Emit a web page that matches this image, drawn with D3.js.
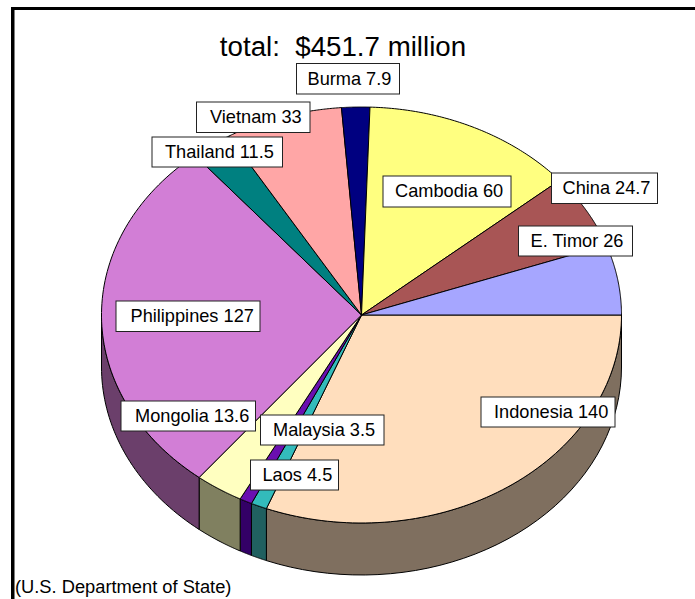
<!DOCTYPE html>
<html>
<head>
<meta charset="utf-8">
<script src="https://cdn.jsdelivr.net/npm/d3@7"></script>
<style>
html, body { margin: 0; padding: 0; background: #fff; }
svg { display: block; }
text { font-family: "Liberation Sans", Arial, sans-serif; fill: #000; }
</style>
</head>
<body>
<div id="chart"></div>
<script>
// clockwise, starting at 3 o'clock
var countries = ["Indonesia", "Laos", "Malaysia", "Mongolia", "Philippines", "Thailand", "Vietnam", "Burma", "Cambodia", "E. Timor", "China"];
// Philippines is printed as 127 but 127.5 is what makes the stated total add up
var amounts = [140, 4.5, 3.5, 13.6, 127.5, 11.5, 33, 7.9, 60, 26, 24.7];
var amountLabels = ["140", "4.5", "3.5", "13.6", "127", "11.5", "33", "7.9", "60", "26", "24.7"];
var titleText = "total:  $451.7 million";
var sourceText = "(U.S. Department of State)";

var topColors = ["#ffdebd", "#33bbbb", "#6a0fb0", "#ffffc0", "#d27ed6", "#008080", "#ffa6a6", "#000080", "#ffff80", "#a85555", "#a6a6ff"];
var sideColors = ["#7f6f5f", "#206060", "#330066", "#808060", "#6b3f6b", "#004040", "#805353", "#000040", "#808040", "#542b2b", "#535380"];

// label boxes: left, top, width, height, text inset
var labelBoxes = [
    [481, 397, 134, 30, 13], [250.5, 460, 88, 30, 12], [260.5, 415, 123.5, 30, 12.5], [121, 401, 134.5, 30, 14],
    [116, 301, 144, 30.5, 14.5], [152, 137, 130.5, 30, 13], [196.5, 102, 113.5, 30.5, 13.5], [296.5, 63.5, 103, 30.5, 11],
    [383, 176, 128, 31, 12], [518.5, 226, 114, 30, 12], [551.5, 173, 106, 30.5, 11]
];

var width = 695, height = 599;
var cx = 361.5, cy = 315, rx = 260, ry = 208, depth = 52;

var svg = d3.select("#chart").append("svg")
    .attr("width", width)
    .attr("height", height);

var pie = d3.pie().sort(null).startAngle(Math.PI / 2).endAngle(Math.PI * 2.5);
var slices = pie(amounts);

var px = d3.scaleLinear().domain([-1, 1]).range([cx - rx, cx + rx]);
var py = d3.scaleLinear().domain([-1, 1]).range([cy - ry, cy + ry]);
var line = d3.line().x(function (d) { return d[0]; }).y(function (d) { return d[1]; });

function rim(angle, offset) {
    return [px(Math.sin(angle)), py(-Math.cos(angle)) + offset];
}

// side wall only shows on the front half of the ellipse
slices.forEach(function (s) {
    var a0 = Math.max(s.startAngle, Math.PI / 2);
    var a1 = Math.min(s.endAngle, Math.PI * 1.5);
    if (a1 <= a0) return;
    var steps = d3.range(0, 41).map(function (i) { return a0 + (a1 - a0) * i / 40; });
    var pts = steps.map(function (a) { return rim(a, 0); })
        .concat(steps.slice().reverse().map(function (a) { return rim(a, depth); }));
    svg.append("path")
        .attr("d", line(pts) + "Z")
        .attr("fill", sideColors[s.index])
        .attr("stroke", "#000")
        .attr("stroke-width", 1);
});

// top face
slices.forEach(function (s) {
    var steps = d3.range(0, 81).map(function (i) { return s.startAngle + (s.endAngle - s.startAngle) * i / 80; });
    var pts = [[cx, cy]].concat(steps.map(function (a) { return rim(a, 0); }));
    svg.append("path")
        .attr("d", line(pts) + "Z")
        .attr("fill", topColors[s.index])
        .attr("stroke", "#000")
        .attr("stroke-width", 1)
        .attr("stroke-linejoin", "round");
});

// frame
svg.append("rect").attr("x", 11).attr("y", 7).attr("width", width - 11).attr("height", 3).attr("fill", "#000");
svg.append("rect").attr("x", 11).attr("y", 7).attr("width", 3.5).attr("height", height - 7).attr("fill", "#000");

svg.append("text")
    .attr("x", 343)
    .attr("y", 56)
    .attr("text-anchor", "middle")
    .attr("font-size", 27.7)
    .style("white-space", "pre")
    .text(titleText);

var labels = svg.selectAll("g.label")
    .data(countries)
    .enter()
    .append("g")
    .attr("class", "label");

labels.append("rect")
    .attr("x", function (d, i) { return labelBoxes[i][0]; })
    .attr("y", function (d, i) { return labelBoxes[i][1]; })
    .attr("width", function (d, i) { return labelBoxes[i][2]; })
    .attr("height", function (d, i) { return labelBoxes[i][3]; })
    .attr("fill", "#fff")
    .attr("stroke", "#222")
    .attr("stroke-width", 1);

labels.append("text")
    .attr("x", function (d, i) { return labelBoxes[i][0] + labelBoxes[i][4]; })
    .attr("y", function (d, i) { return labelBoxes[i][1] + 21; })
    .attr("font-size", 18.2)
    .text(function (d, i) { return d + " " + amountLabels[i]; });

svg.append("text")
    .attr("x", 15)
    .attr("y", 593)
    .attr("font-size", 18.3)
    .text(sourceText);
</script>
</body>
</html>
